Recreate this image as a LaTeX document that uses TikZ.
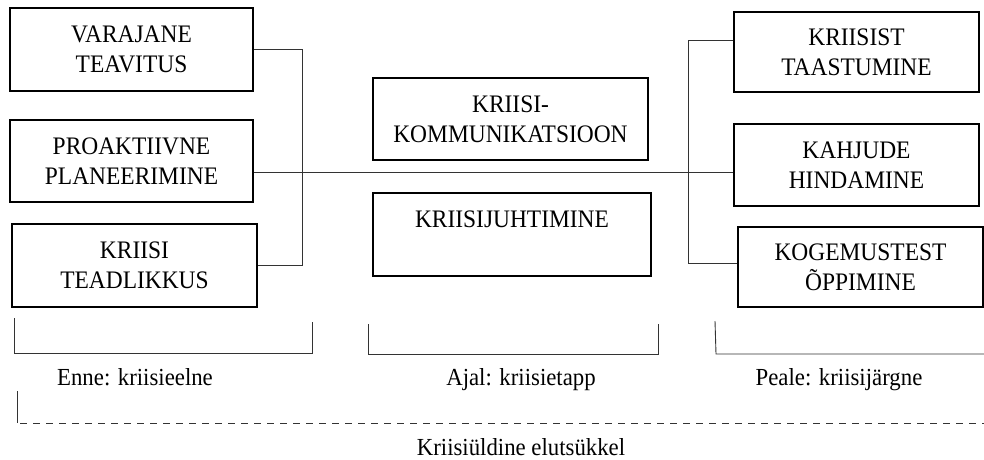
\documentclass[tikz,border=0pt]{standalone}
\usepackage{fontspec}
\setmainfont[FakeStretch=0.93]{Liberation Serif}
\begin{document}
\begin{tikzpicture}[x=1pt, y=-1pt,
    phase/.style={draw, line width=1.4pt, inner sep=0pt, align=center,
      font=\fontsize{25.2}{30}\selectfont},
    link/.style={line width=0.9pt, black!80},
    caption/.style={font=\fontsize{24.5}{29}\selectfont, inner sep=0pt, anchor=base}]
  \useasboundingbox (0, 0) rectangle (984, 459) ;

  % enne
  \node[phase, minimum width=243pt, minimum height=83pt] (early) at (131.5, 49.5) {VARAJANE\\TEAVITUS} ;
  \node[phase, minimum width=243pt, minimum height=82pt] (plan) at (131.5, 161) {PROAKTIIVNE\\PLANEERIMINE} ;
  \node[phase, line width=2pt, minimum width=245pt, minimum height=83pt] (aware) at (134.5, 265.5) {KRIISI\\TEADLIKKUS} ;

  % ajal
  \node[phase, minimum width=275pt, minimum height=82pt] (comm) at (510.5, 119) {KRIISI-\\KOMMUNIKATSIOON} ;
  \node[phase, minimum width=278pt, minimum height=83pt] (manage) at (512, 234.5) {KRIISIJUHTIMINE\\\mbox{}} ;

  % peale
  \node[phase, minimum width=245pt, minimum height=80pt] (recover) at (856.5, 52) {KRIISIST\\TAASTUMINE} ;
  \node[phase, minimum width=245pt, minimum height=82pt] (damage) at (856.5, 165) {KAHJUDE\\HINDAMINE} ;
  \node[phase, line width=2pt, minimum width=245pt, minimum height=80pt] (learn) at (860.5, 267) {KOGEMUSTEST\\ÕPPIMINE} ;

  \draw[link] (early.east) -- ++(49, 0) coordinate (lt) -- (lt |- aware.east) -- (aware.east) ;
  \draw[link] ([yshift=-11pt]plan.east) -- ([yshift=-11pt]plan.east -| damage.west) ;
  \coordinate (rb) at ([yshift=4pt]learn.west) ;
  \draw[link] ([yshift=12pt]recover.west) -- ++(-45, 0) coordinate (rt) -- (rt |- rb) -- (rb) ;

  \draw[link] (14, 318) -- (14, 353) -- (312, 353) -- (312, 322) ;
  \draw[link] (368, 324) -- (368, 354) -- (658, 354) -- (658, 324) ;
  \draw[link] (715, 321) -- (716, 354) -- (984, 354) ;
  \node[caption] (before) at (135, 385) {Enne: kriisieelne} ;
  \node[caption] (during) at (521, 385) {Ajal: kriisietapp} ;
  \node[caption] (after) at (839, 385) {Peale: kriisijärgne} ;

  \draw[link] (17, 391) -- (17, 423) ;
  \draw[link, dash pattern=on 7pt off 6pt] (20, 423) -- (984, 423) ;
  \node[caption] (cycle) at (521, 455) {Kriisiüldine elutsükkel} ;
\end{tikzpicture}
\end{document}
